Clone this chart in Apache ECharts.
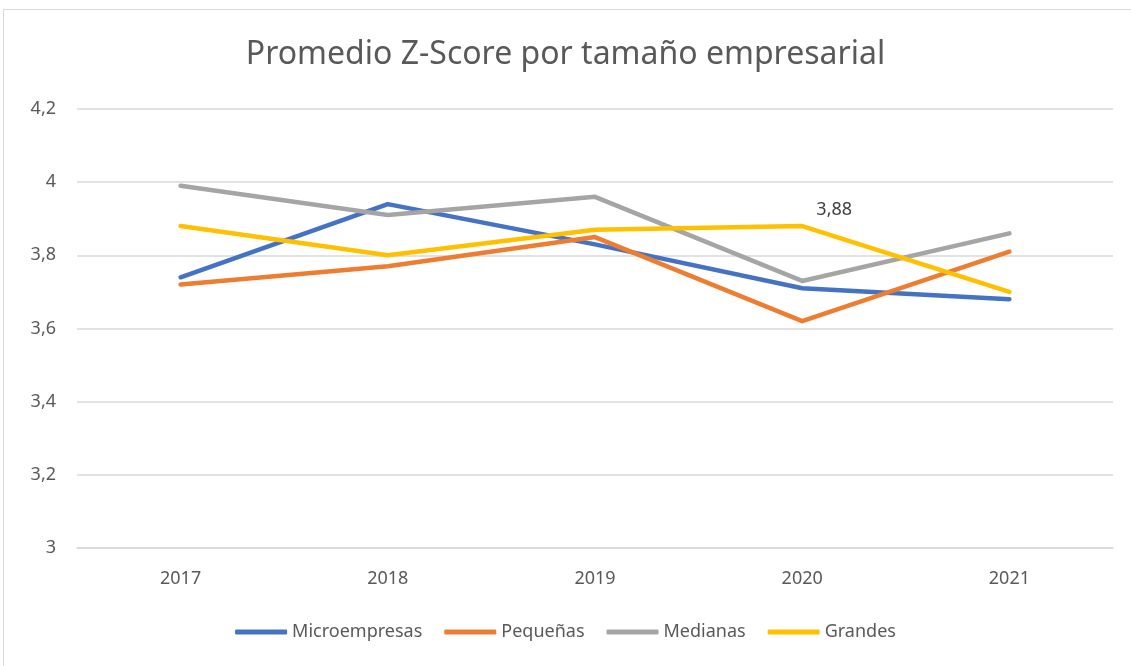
<!DOCTYPE html>
<html>
<head>
<meta charset="utf-8">
<script src="https://cdn.jsdelivr.net/npm/echarts@6/dist/echarts.min.js"></script>
<style>
  html, body { margin: 0; padding: 0; background: #fff; overflow: hidden; }
  #frame { position: absolute; left: 3px; top: 9px; width: 1140px; height: 670px; border: 1px solid #d9d9d9; box-sizing: border-box; }
  #main { position: absolute; left: 0; top: 0; width: 1131px; height: 666px; }
</style>
</head>
<body>
<div id="frame"></div>
<div id="main"></div>
<script>
// datos
const years = ['2017', '2018', '2019', '2020', '2021']
const micro = [3.74, 3.94, 3.83, 3.71, 3.68]
const pequenas = [3.72, 3.77, 3.85, 3.62, 3.81]
const medianas = [3.99, 3.91, 3.96, 3.73, 3.86]
const grandes = [3.88, 3.80, 3.87, 3.88, 3.70]
const labelIndex = 3 // solo se etiqueta 2020 en Grandes

const font = 'Noto Sans'

function serie(name, data, color) {
  return {
    name: name,
    type: 'line',
    data: data,
    symbol: 'circle',
    symbolSize: 0,
    lineStyle: { width: 4.5, color: color, cap: 'round', join: 'round' },
    itemStyle: { color: color },
  }
}

const chart = echarts.init(document.getElementById('main'))
const grandesSerie = serie('Grandes', grandes.map((v, i) => i === labelIndex ? {
  value: v,
  label: {
    show: true,
    position: 'top',
    offset: [32, -2],
    fontSize: 18,
    fontFamily: font,
    color: '#404040',
    formatter: p => String(p.value).replace('.', ','),
  },
} : v), '#ffc000')

chart.setOption({
  animation: false,
  title: {
    text: 'Promedio Z-Score por tamaño empresarial',
    left: 'center',
    top: 34,
    textStyle: { fontFamily: font, fontSize: 32, fontWeight: 'normal', color: '#595959' },
  },
  legend: {
    bottom: 20,
    left: 'center',
    itemWidth: 52,
    itemHeight: 5,
    itemGap: 22,
    icon: 'roundRect',
    textStyle: { fontFamily: font, fontSize: 18, color: '#595959' },
    data: ['Microempresas', 'Pequeñas', 'Medianas', 'Grandes'],
  },
  grid: { left: 77, right: 18, top: 109, bottom: 118 },
  xAxis: {
    type: 'category',
    data: years,
    boundaryGap: true,
    axisLine: { lineStyle: { color: '#d9d9d9', width: 1.5 } },
    axisTick: { show: false },
    axisLabel: { fontFamily: font, fontSize: 18, color: '#595959', margin: 22 },
  },
  yAxis: {
    type: 'value',
    min: 3,
    max: 4.2,
    interval: 0.2,
    axisLine: { show: false },
    axisTick: { show: false },
    splitLine: { lineStyle: { color: '#d9d9d9', width: 1.5 } },
    axisLabel: {
      fontFamily: font, fontSize: 18, color: '#595959', margin: 21,
      formatter: v => String(Math.round(v * 10) / 10).replace('.', ','),
    },
  },
  series: [
    serie('Microempresas', micro, '#4472c4'),
    serie('Pequeñas', pequenas, '#ed7d31'),
    serie('Medianas', medianas, '#a5a5a5'),
    grandesSerie,
  ],
})
</script>
</body>
</html>
